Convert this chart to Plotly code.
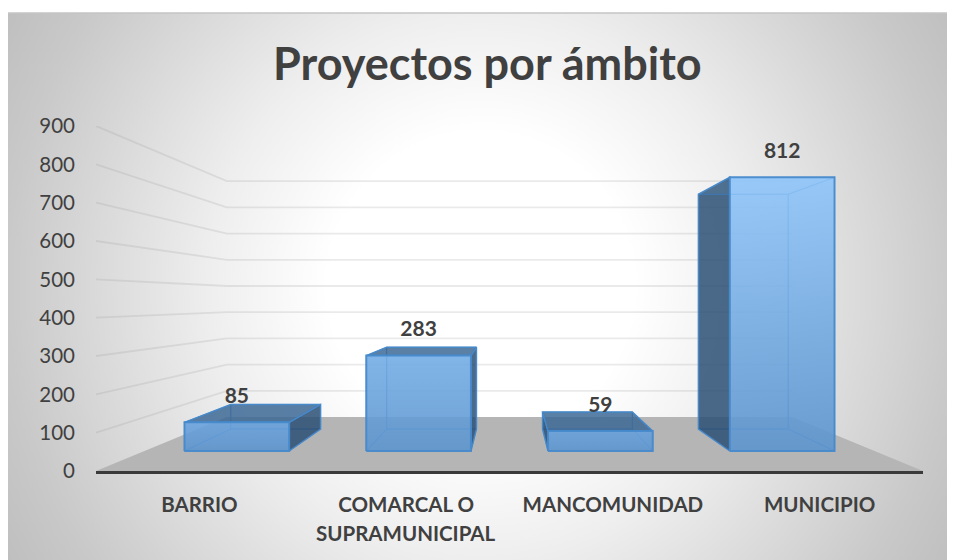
import base64
import plotly.graph_objects as go

categories = ["BARRIO", "COMARCAL O", "MANCOMUNIDAD", "MUNICIPIO"]
second_line = {1: "SUPRAMUNICIPAL"}
values = [85, 283, 59, 812]
y_ticks = [0, 100, 200, 300, 400, 500, 600, 700, 800, 900]
label_ticks = [-1.5, -0.5, 0.5, 1.5]
title = "Proyectos por ámbito"

INK = "#404040"
FONT = "Lato"
PAGE = 8  # the page's own body margin
W, H = 955 - PAGE, 560 - PAGE
L, R, T, B = 96 - PAGE, 923 - PAGE, 126 - PAGE, 471 - PAGE

# perspective planes: (pixel baseline on the page, pixels per value)
AXIS = (471, 0.3833)
FRONT = (451, 0.337)
BACK = (429, 0.289)
WALL = (417, 0.262)
HALF = 0.288


def px(u, plane):
    return u * plane[1] / AXIS[1]


def py(v, plane):
    return (AXIS[0] - plane[0]) / AXIS[1] + v * plane[1] / AXIS[1]


def mix(c1, c2, t):
    return [round(a + (b - a) * t) for a, b in zip(c1, c2)]


fig = go.Figure()


def poly(pts, fill, line, width=1.5, gradient=None):
    xs = [p[0] for p in pts] + [pts[0][0]]
    ys = [p[1] for p in pts] + [pts[0][1]]
    kw = dict(fillgradient=gradient) if gradient else dict(fillcolor=fill)
    fig.add_trace(go.Scatter(x=xs, y=ys, mode="lines", fill="toself",
                             line=dict(color=line, width=width),
                             hoverinfo="skip", showlegend=False, **kw))


# floor
poly([(px(-2, AXIS), py(0, AXIS)), (px(2, AXIS), py(0, AXIS)),
      (px(2, WALL), py(0, WALL)), (px(-2, WALL), py(0, WALL))],
     "#b5b5b5", "rgba(0,0,0,0)", 0)

# gridlines on the side and back wall
for t in y_ticks[1:]:
    fig.add_trace(go.Scatter(
        x=[px(-2, AXIS), px(-2, WALL), px(2, WALL)],
        y=[py(t, AXIS), py(t, WALL), py(t, WALL)],
        mode="lines", line=dict(color="rgba(150,150,150,0.2)", width=1.8),
        hoverinfo="skip", showlegend=False))

EDGE = "rgba(70,138,204,0.9)"
INNER = "rgba(91,155,213,0.12)"
INNER_EDGE = "rgba(70,135,200,0.75)"
DARK_SIDE = "rgba(40,76,112,0.82)"
DARK_TOP = "rgba(58,102,148,0.82)"

for i, v in enumerate(values):
    u = i - 1.5
    l, r = u - HALF, u + HALF
    fl, fr = px(l, FRONT), px(r, FRONT)
    bl, br = px(l, BACK), px(r, BACK)
    f0, ft = py(0, FRONT), py(v, FRONT)
    b0, bt = py(0, BACK), py(v, BACK)

    # back and bottom
    poly([(bl, b0), (br, b0), (br, bt), (bl, bt)], INNER, INNER_EDGE, 1)
    poly([(fl, f0), (fr, f0), (br, b0), (bl, b0)], INNER, INNER_EDGE, 1)
    # sides
    left_out = bl < fl
    right_out = br > fr
    top_out = bt > ft
    poly([(fl, f0), (bl, b0), (bl, bt), (fl, ft)],
         DARK_SIDE if left_out else INNER, EDGE if left_out else INNER_EDGE,
         1.5 if left_out else 1)
    poly([(fr, f0), (br, b0), (br, bt), (fr, ft)],
         DARK_SIDE if right_out else INNER, EDGE if right_out else INNER_EDGE,
         1.5 if right_out else 1)
    poly([(fl, ft), (fr, ft), (br, bt), (bl, bt)],
         DARK_TOP if top_out else INNER, EDGE if top_out else INNER_EDGE,
         1.5 if top_out else 1)
    # front, lighter the taller it stands
    top_col = mix((100, 158, 218), (143, 197, 250), v / max(values))
    top_rgba = f"rgba({top_col[0]},{top_col[1]},{top_col[2]},0.88)"
    poly([(fl, f0), (fr, f0), (fr, ft), (fl, ft)], None, EDGE, 2,
         gradient=dict(type="vertical",
                       colorscale=[[0, "rgba(92,148,206,0.88)"], [1, top_rgba]]))

# data labels
fig.add_trace(go.Scatter(
    x=[px(i - 1.5, FRONT) for i in range(len(values))],
    y=[py(v, FRONT) + 24.5 / AXIS[1] for v in values],
    text=[str(v) for v in values], mode="text", textposition="middle center",
    textfont=dict(family=FONT, size=21, color=INK, weight="bold"),
    hoverinfo="skip", showlegend=False))

svg = """<svg xmlns='http://www.w3.org/2000/svg' width='947' height='547'>
<defs><radialGradient id='g' gradientUnits='userSpaceOnUse' cx='473' cy='273' r='546'>
<stop offset='0' stop-color='#ffffff'/><stop offset='0.28' stop-color='#ffffff'/>
<stop offset='0.5' stop-color='#eeeeee'/><stop offset='0.87' stop-color='#c9c9c9'/>
<stop offset='1' stop-color='#bfbfbf'/></radialGradient></defs>
<rect width='947' height='547' fill='url(#g)'/></svg>"""
uri = "data:image/svg+xml;base64," + base64.b64encode(svg.encode()).decode()

pw, ph = R - L, B - T
frame_top = (471 - 13) / ph
frame_left = (8 - 96) / pw
annotations = [
    dict(text=f"<b>{title}</b>", xref="paper", yref="paper",
         x=(487 - 96) / pw, y=(471 - 63) / ph, xanchor="center", yanchor="middle",
         showarrow=False, font=dict(family=FONT, size=45, color=INK)),
]
for i, txt in second_line.items():
    annotations.append(dict(text=f"<b>{txt}</b>", xref="x", yref="paper",
                            x=label_ticks[i], y=(471 - 533) / ph, xanchor="center",
                            yanchor="middle", showarrow=False,
                            font=dict(family=FONT, size=20.5, color=INK)))

fig.update_layout(
    width=W, height=H, autosize=False,
    margin=dict(l=L, r=W - R, t=T, b=H - B, pad=0),
    paper_bgcolor="white", plot_bgcolor="rgba(0,0,0,0)",
    showlegend=False,
    xaxis=dict(range=[-2, 2], tickmode="array", tickvals=label_ticks, ticktext=categories,
               showgrid=False, zeroline=False, showline=True, linecolor="#3a3a3a", linewidth=3,
               ticks="", ticklabelstandoff=13,
               tickfont=dict(family=FONT, size=20.5, color=INK, weight="bold")),
    yaxis=dict(range=[0, 900], tickmode="array", tickvals=y_ticks,
               showgrid=False, zeroline=False, showline=False, ticks="",
               ticklabelstandoff=20,
               tickfont=dict(family=FONT, size=20.5, color=INK)),
    annotations=annotations,
    images=[dict(source=uri, xref="paper", yref="paper",
                 x=frame_left, y=frame_top,
                 sizex=947 / pw, sizey=547 / ph, xanchor="left", yanchor="top",
                 sizing="stretch", layer="below")],
    shapes=[dict(type="line", xref="paper", yref="paper",
                 x0=frame_left, x1=frame_left + 947 / pw, y0=frame_top, y1=frame_top,
                 line=dict(color="#c4c4c4", width=1.5))],
)

fig.write_html("out.html", config={"displayModeBar": False})
